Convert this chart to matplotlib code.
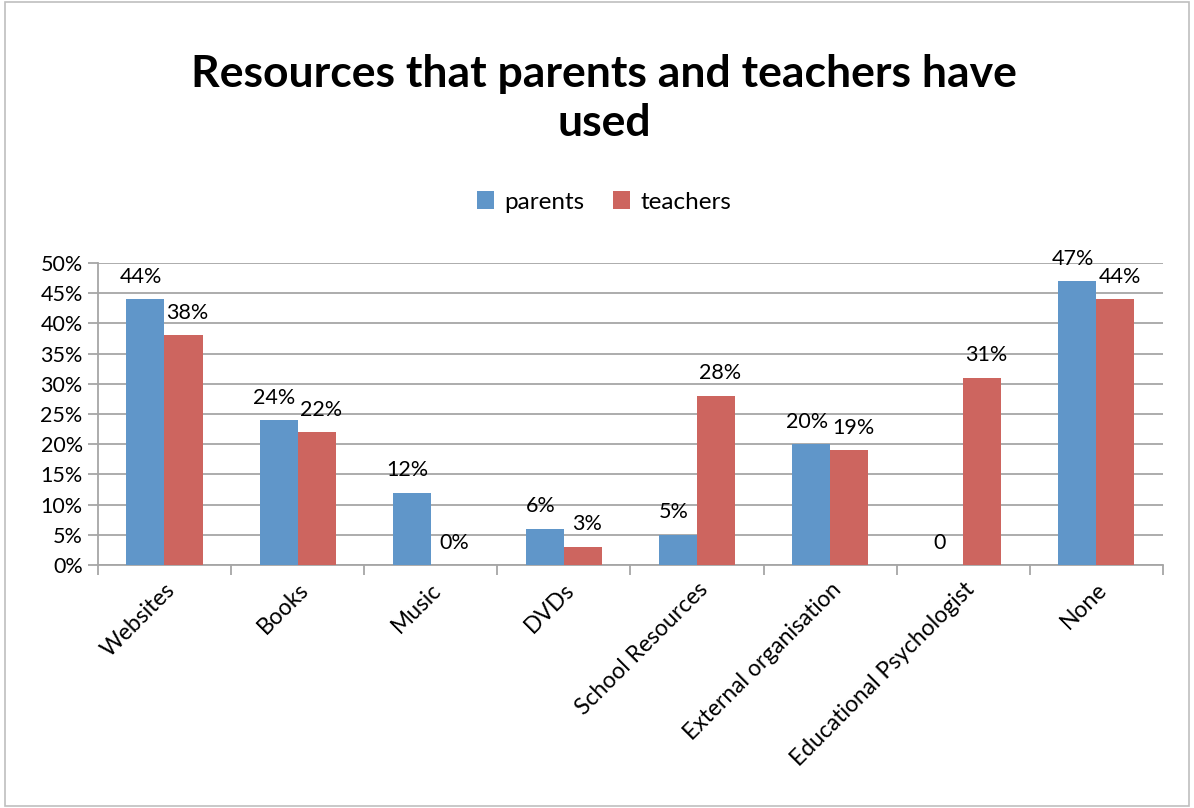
import numpy as np
import matplotlib
matplotlib.use('Agg')
import matplotlib.pyplot as plt
from matplotlib.patches import Rectangle

categories = ['Websites', 'Books', 'Music', 'DVDs', 'School Resources',
              'External organisation', 'Educational Psychologist', 'None']
parents = [44, 24, 12, 6, 5, 20, 0, 47]
teachers = [38, 22, 0, 3, 28, 19, 31, 44]
parent_labels = ['44%', '24%', '12%', '6%', '5%', '20%', '0', '47%']
teacher_labels = ['38%', '22%', '0%', '3%', '28%', '19%', '31%', '44%']
yticks = [0, 5, 10, 15, 20, 25, 30, 35, 40, 45, 50]

plt.rcParams['font.family'] = ['Lato', 'DejaVu Sans']

BLUE = '#6096c9'
RED = '#cd655f'
GRID = '#a6a6a6'

fig = plt.figure(figsize=(11.94, 8.08), dpi=100)
fig.patches.append(Rectangle((0.004, 0.002), 0.992, 0.995, transform=fig.transFigure,
                             fill=False, edgecolor='#bfbfbf', linewidth=1.2))
ax = fig.add_axes([0.082, 0.3007, 0.892, 0.3738])

x = np.arange(len(categories)) + 0.5
w = 0.286
b1 = ax.bar(x - w / 2, parents, w, color=BLUE, label='parents', zorder=3)
b2 = ax.bar(x + w / 2, teachers, w, color=RED, label='teachers', zorder=3)

# labels sit a little above each bar, like the Excel original
for bars, labels, dx in ((b1, parent_labels, -3), (b2, teacher_labels, 3)):
    for rect, lab in zip(bars, labels):
        ax.annotate(lab, (rect.get_x() + rect.get_width() / 2, rect.get_height()),
                    xytext=(dx, 9), textcoords='offset points',
                    ha='center', va='bottom', fontsize=15.5)

ax.set_xlim(0, len(categories))
ax.set_ylim(0, 50)
ax.set_yticks(yticks)
ax.set_yticklabels([f'{t}%' for t in yticks], fontsize=15.5)
ax.yaxis.grid(True, color=GRID, linewidth=1.3, zorder=0)

ax.set_xticks(np.arange(len(categories) + 1))
ax.set_xticklabels([])
ax.set_xticks(x, minor=True)
ax.set_xticklabels(categories, minor=True, rotation=45, ha='right',
                   rotation_mode='anchor', fontsize=16.5)
ax.tick_params(axis='x', which='minor', length=0, pad=10)
ax.tick_params(axis='x', which='major', length=7, color=GRID, width=1.3)
ax.tick_params(axis='y', length=7, color=GRID, width=1.3, pad=4)

for s in ('top', 'right'):
    ax.spines[s].set_visible(False)
for s in ('left', 'bottom'):
    ax.spines[s].set_color(GRID)
    ax.spines[s].set_linewidth(1.3)

fig.text(0.506, 0.878, 'Resources that parents and teachers have\nused', ha='center',
         va='center', fontsize=32, fontweight='bold', linespacing=1.25)

fig.legend(handles=[b1, b2], loc='center', bbox_to_anchor=(0.506, 0.75), ncol=2,
           frameon=False, fontsize=17.5, handlelength=0.7, handleheight=0.7,
           handletextpad=0.4, columnspacing=1.2)

fig.savefig('out.png', dpi=100)
